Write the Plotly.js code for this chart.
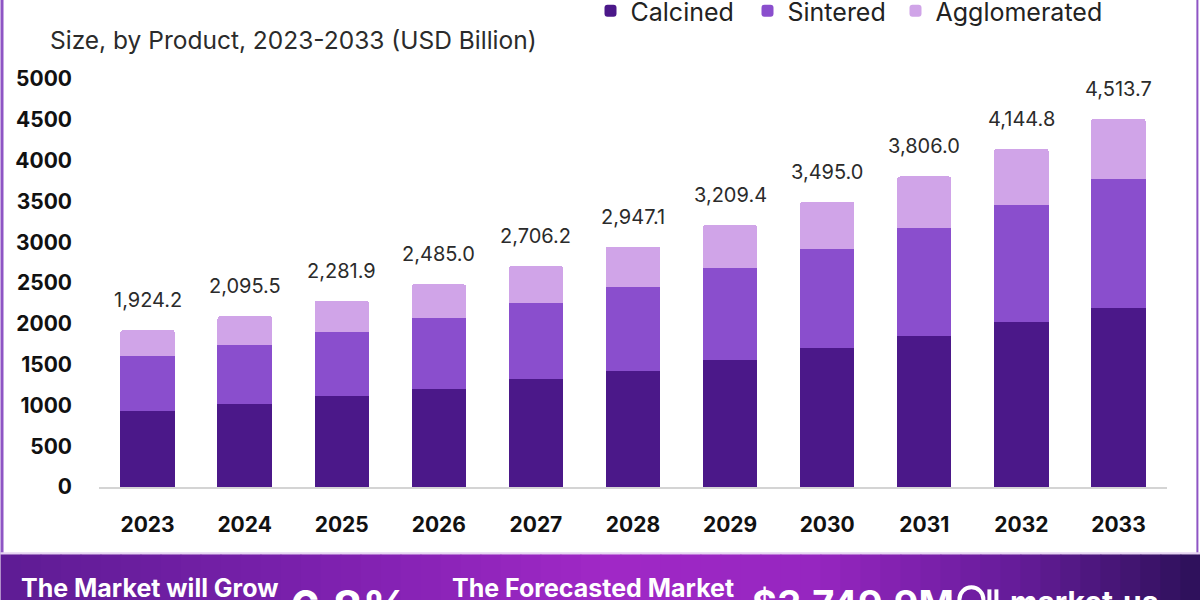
<!DOCTYPE html>
<html>
<head>
<meta charset="utf-8">
<script src="https://cdn.plot.ly/plotly-3.0.1.min.js"></script>
<style>
  html, body { margin: 0; padding: 0; background: #ffffff; }
  #chart { width: 1200px; height: 600px; }
</style>
</head>
<body>
<div id="chart"></div>
<script>
// ---- data ----
const years = ["2023", "2024", "2025", "2026", "2027", "2028", "2029", "2030", "2031", "2032", "2033"];
const calcined = [929, 1015, 1113, 1207, 1318, 1425, 1555, 1705, 1850, 2018, 2198];
const sintered = [675, 724, 782, 859, 940, 1027, 1125, 1208, 1325, 1437, 1575];
const agglomerated = [320.2, 356.5, 386.9, 419.0, 448.2, 495.1, 529.4, 582.0, 631.0, 689.8, 740.7];
const totalLabels = ["1,924.2", "2,095.5", "2,281.9", "2,485.0", "2,706.2", "2,947.1", "3,209.4", "3,495.0", "3,806.0", "4,144.8", "4,513.7"];
const yTicks = [0, 500, 1000, 1500, 2000, 2500, 3000, 3500, 4000, 4500, 5000];

const subtitle = "Size, by Product, 2023-2033 (USD Billion)";
const bannerLeft = "The Market will Grow";
const bannerCagr = "6.8%";
const bannerMid = "The Forecasted Market";
const bannerValue = "$3,749.9M";
const bannerBrand = "market.us";

const colors = { calcined: "#4b1889", sintered: "#8a4ecd", agglomerated: "#d0a4e8" };
const FONT = "Inter, 'Open Sans', 'DejaVu Sans', sans-serif";

// ---- layout geometry (pixels) ----
const L = 98.5, R = 1166.6, T = 79, B = 486.7;
const fx = px => (px - L) / (R - L);
const fy = py => (B - py) / (B - T);

const series = [
  { name: "Calcined", y: calcined, color: colors.calcined, legend: "legend", lx: 608 },
  { name: "Sintered", y: sintered, color: colors.sintered, legend: "legend2", lx: 765 },
  { name: "Agglomerated", y: agglomerated, color: colors.agglomerated, legend: "legend3", lx: 913 }
];
const traces = series.map(s => ({
  type: "bar", x: years, y: s.y, name: s.name, legend: s.legend,
  marker: { color: s.color, line: { width: 0 } },
  hoverinfo: "x+y+name"
}));

const totals = years.map((_, i) => calcined[i] + sintered[i] + agglomerated[i]);

const annotations = years.map((yr, i) => ({
  x: i, y: totals[i], xref: "x", yref: "y",
  text: totalLabels[i], showarrow: false,
  yanchor: "middle", yshift: 30,
  font: { family: FONT, size: 20, color: "#2b2b2b" }
}));

annotations.push({
  xref: "paper", yref: "paper", x: fx(47), y: fy(40), xanchor: "left", yanchor: "middle",
  text: subtitle, showarrow: false,
  font: { family: FONT, size: 24.5, color: "#2b2b2b" }
});

// banner texts
annotations.push(
  { xref: "paper", yref: "paper", x: fx(18), y: fy(588), xanchor: "left", yanchor: "middle",
    text: "<b>" + bannerLeft + "</b>", showarrow: false, font: { family: FONT, size: 25, color: "#ffffff" } },
  { xref: "paper", yref: "paper", x: fx(288), y: fy(577), xanchor: "left", yanchor: "top",
    text: "<b>" + bannerCagr + "</b>", showarrow: false, font: { family: FONT, size: 46, color: "#ffffff" } },
  { xref: "paper", yref: "paper", x: fx(450), y: fy(588), xanchor: "left", yanchor: "middle",
    text: "<b>" + bannerMid + "</b>", showarrow: false, font: { family: FONT, size: 25, color: "#ffffff" } },
  { xref: "paper", yref: "paper", x: fx(750), y: fy(579), xanchor: "left", yanchor: "top",
    text: "<b>" + bannerValue + "</b>", showarrow: false, font: { family: FONT, size: 38, color: "#ffffff" } },
  { xref: "paper", yref: "paper", x: fx(1008), y: fy(582), xanchor: "left", yanchor: "top",
    text: "<b>" + bannerBrand + "</b>", showarrow: false, font: { family: FONT, size: 30, color: "#ffffff" } }
);

// decorative shapes: banner gradient strips + frame lines
const stops = [
  [0, [94, 28, 148]], [0.25, [122, 32, 172]], [0.5, [160, 40, 198]],
  [0.68, [150, 38, 192]], [0.85, [100, 28, 152]], [1, [44, 16, 88]]
];
function colorAt(t) {
  for (let k = 0; k < stops.length - 1; k++) {
    const [t0, c0] = stops[k], [t1, c1] = stops[k + 1];
    if (t >= t0 && t <= t1) {
      const u = (t - t0) / (t1 - t0);
      const c = c0.map((v, j) => Math.round(v + (c1[j] - v) * u));
      return "rgb(" + c.join(",") + ")";
    }
  }
  return "rgb(44,16,88)";
}
const shapes = [];
const N = 60;
for (let k = 0; k < N; k++) {
  const x0 = 1200 * k / N, x1 = 1200 * (k + 1) / N + 1;
  shapes.push({
    type: "rect", xref: "paper", yref: "paper", layer: "below",
    x0: fx(x0), x1: fx(x1), y0: fy(600), y1: fy(554),
    fillcolor: colorAt((k + 0.5) / N), line: { width: 0 }
  });
}
shapes.push(
  { type: "line", xref: "paper", yref: "paper", x0: fx(1.5), x1: fx(1.5), y0: fy(0), y1: fy(554),
    line: { color: "#8e55c4", width: 3 } },
  { type: "line", xref: "paper", yref: "paper", x0: fx(1197), x1: fx(1197), y0: fy(0), y1: fy(554),
    line: { color: "#8e55c4", width: 2 } },
  { type: "line", xref: "paper", yref: "paper", x0: fx(0), x1: fx(1200), y0: fy(553), y1: fy(553),
    line: { color: "#e6d3f2", width: 2 } },
  // small brand icon next to the banner value
  { type: "circle", xref: "paper", yref: "paper", x0: fx(959), x1: fx(983), y0: fy(611), y1: fy(587),
    line: { color: "#ffffff", width: 4 } },
  { type: "line", xref: "paper", yref: "paper", x0: fx(989), x1: fx(989), y0: fy(600), y1: fy(589),
    line: { color: "#ffffff", width: 4 } },
  { type: "line", xref: "paper", yref: "paper", x0: fx(996), x1: fx(996), y0: fy(600), y1: fy(589),
    line: { color: "#ffffff", width: 4 } }
);

function legendAt(px) {
  return {
    orientation: "h", xref: "container", yref: "container",
    x: (px - 17.5) / 1200, y: 1 - 11 / 600, xanchor: "left", yanchor: "middle",
    font: { family: FONT, size: 25, color: "#222222" },
    itemclick: false, itemdoubleclick: false,
    bgcolor: "rgba(0,0,0,0)"
  };
}

const layout = {
  width: 1200, height: 600,
  margin: { l: L, r: 1200 - R, t: T, b: 600 - B, pad: 0 },
  paper_bgcolor: "#ffffff", plot_bgcolor: "#ffffff",
  barmode: "stack", bargap: 0.44, barcornerradius: 3,
  font: { family: FONT, color: "#111111" },
  showlegend: true,
  legend: legendAt(series[0].lx),
  legend2: legendAt(series[1].lx),
  legend3: legendAt(series[2].lx),
  xaxis: {
    type: "category", categoryorder: "array", categoryarray: years,
    range: [-0.5, years.length - 0.5],
    showline: true, linecolor: "#d4d4d4", linewidth: 1.5,
    ticks: "", showgrid: false, zeroline: false,
    ticklabelstandoff: 18,
    tickfont: { family: FONT, size: 21, color: "#111111", weight: "bold" }
  },
  yaxis: {
    range: [0, 5000], tickvals: yTicks, ticktext: yTicks.map(String),
    showline: false, showgrid: false, zeroline: false, ticks: "",
    ticklabelstandoff: 26,
    tickfont: { family: FONT, size: 21, color: "#111111", weight: "bold" }
  },
  annotations: annotations,
  shapes: shapes
};

Plotly.newPlot("chart", traces, layout, { displayModeBar: false, staticPlot: true });
</script>
</body>
</html>
